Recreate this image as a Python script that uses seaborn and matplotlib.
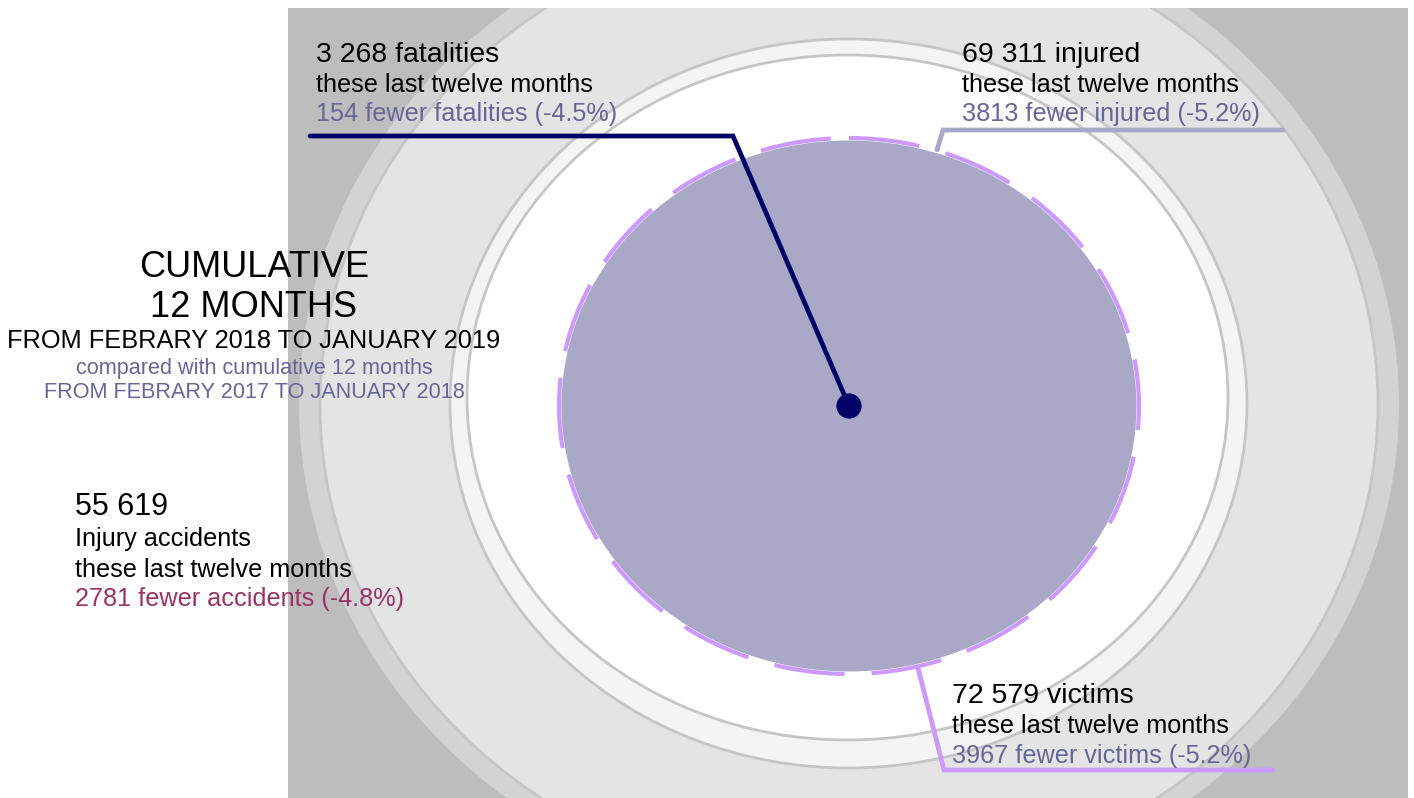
import matplotlib
matplotlib.use("Agg")
import matplotlib.pyplot as plt
from matplotlib.patches import Ellipse, Rectangle
import seaborn as sns

# data: cumulative 12 months, Feb 2018 - Jan 2019 vs Feb 2017 - Jan 2018
series = ['fatalities', 'injured', 'victims', 'accidents']
values = [3268, 69311, 72579, 55619]
fewer = [154, 3813, 3967, 2781]
pct_change = [-4.5, -5.2, -5.2, -4.8]

title_lines = ['CUMULATIVE', '12 MONTHS', 'FROM FEBRARY 2018 TO JANUARY 2019']
compare_lines = ['compared with cumulative 12 months', 'FROM FEBRARY 2017 TO JANUARY 2018']

sns.set_theme(style='white')
plt.rcParams['font.family'] = ['Liberation Sans', 'DejaVu Sans']
plt.rcParams['text.color'] = 'black'

navy = '#000066'
lilac = '#A9A9C7'
purple = '#CC99FF'
slate = '#666699'
maroon = '#993366'
ring_line = '#C6C6C6'

fig = plt.figure(figsize=(14.14, 7.98), dpi=100)
ax = fig.add_axes([0, 0, 1, 1])
ax.set_xlim(0, 1414)
ax.set_ylim(798, 0)
ax.axis('off')

# background "target" rings
back = Rectangle((288, 8), 1120, 790, facecolor='#BDBDBD', edgecolor='none', zorder=0)
ax.add_patch(back)
rings = [
    Ellipse((849, 404.5), 1100, 1006, facecolor='#D3D3D3', edgecolor='none'),
    Ellipse((849, 404.5), 1058, 968, facecolor='#E4E4E4', edgecolor=ring_line, lw=2),
    Ellipse((848.5, 403.5), 797, 729, facecolor='#F4F4F4', edgecolor=ring_line, lw=2),
    Ellipse((847.5, 397.5), 761, 685, facecolor='white', edgecolor=ring_line, lw=2),
]
for r in rings:
    ax.add_patch(r)
    r.set_clip_path(back)

# victims (dashed outline) and injured (filled) circles
cx, cy = 849, 406
rx_v, ry_v = 290, 268
ax.add_patch(Ellipse((cx, cy), 2 * rx_v, 2 * ry_v, fill=False, edgecolor=purple, lw=3,
                     linestyle=(0, (17, 6.5)), zorder=3))
ax.add_patch(Ellipse((cx, cy), 2 * (rx_v - 2.5), 2 * (ry_v - 2.5), facecolor=lilac, edgecolor='none', zorder=4))

# leader lines
ax.plot([cx, 733, 310], [cy, 136, 136], color=navy, lw=3.4, zorder=5, solid_joinstyle='miter')
ax.plot([937, 943, 1283], [150, 130, 130], color=lilac, lw=3.4, zorder=5, solid_joinstyle='miter')
ax.plot([918, 944, 1273], [668, 770, 770], color=purple, lw=3.4, zorder=5, solid_joinstyle='miter')

# fatalities dot
sns.scatterplot(x=[cx], y=[cy], s=330, color=navy, edgecolor='none', ax=ax, zorder=6, legend=False)
ax.set_xlim(0, 1414)
ax.set_ylim(798, 0)


def fmt(v):
    return f'{v:,}'.replace(',', ' ')


big, small = 20.5, 18.2
blocks = [
    (316, [62, 92, 121], 0, f'{fmt(values[0])} fatalities', slate, 'fatalities'),
    (962, [62, 92, 121], 1, f'{fmt(values[1])} injured', slate, 'injured'),
    (952, [703, 733, 763], 2, f'{fmt(values[2])} victims', slate, 'victims'),
]
for x, ys, i, head, col, word in blocks:
    ax.text(x, ys[0], head, fontsize=big, color='black', va='baseline', zorder=7)
    ax.text(x, ys[1], 'these last twelve months', fontsize=small, color='black', va='baseline', zorder=7)
    ax.text(x, ys[2], f'{fewer[i]} fewer {word} ({pct_change[i]}%)', fontsize=small, color=col,
            va='baseline', zorder=7)

# accidents block
ax.text(75, 515, fmt(values[3]), fontsize=22, color='black', va='baseline', zorder=7)
ax.text(75, 546, 'Injury accidents', fontsize=small, color='black', va='baseline', zorder=7)
ax.text(75, 577, 'these last twelve months', fontsize=small, color='black', va='baseline', zorder=7)
ax.text(75, 606, f'{fewer[3]} fewer accidents ({pct_change[3]}%)', fontsize=small, color=maroon,
        va='baseline', zorder=7)

# period title
ax.text(254, 277, title_lines[0], fontsize=26, color='black', ha='center', va='baseline', zorder=7)
ax.text(254, 317, title_lines[1], fontsize=26, color='black', ha='center', va='baseline', zorder=7)
ax.text(254, 348, title_lines[2], fontsize=18.3, color='black', ha='center', va='baseline', zorder=7)
ax.text(254, 374, compare_lines[0], fontsize=15.6, color=slate, ha='center', va='baseline', zorder=7)
ax.text(254, 398, compare_lines[1], fontsize=15.6, color=slate, ha='center', va='baseline', zorder=7)

fig.savefig('out.png', dpi=100, facecolor='white')
